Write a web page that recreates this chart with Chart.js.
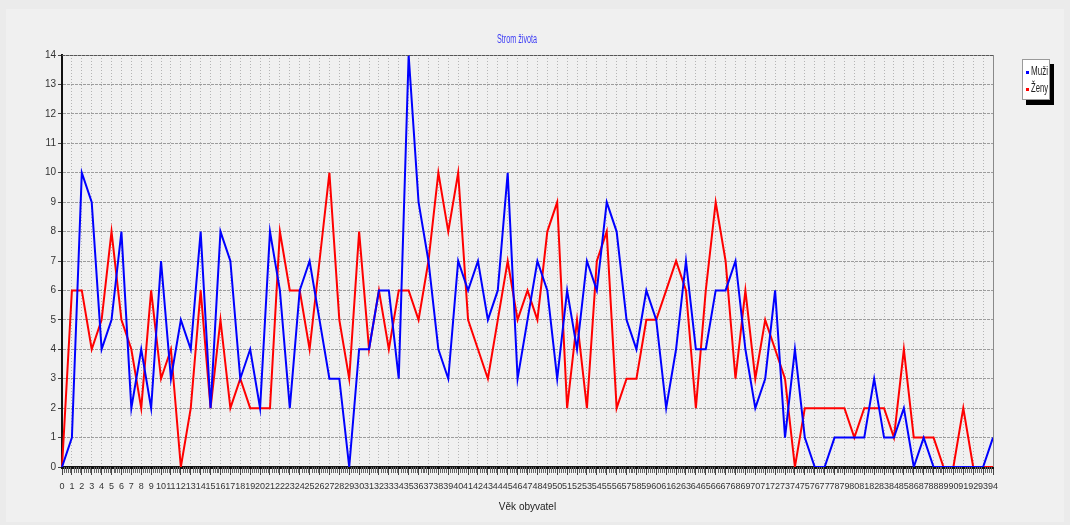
<!DOCTYPE html>
<html>
<head>
<meta charset="utf-8">
<script src="https://cdn.jsdelivr.net/npm/chart.js@4/dist/chart.umd.min.js"></script>
<style>
html, body { margin: 0; padding: 0; background: #ebebeb; }
#board { display: block; }
</style>
</head>
<body>
<canvas id="board" width="1070" height="525"></canvas>
<script>
// age categories (x axis)
const ages = [0, 1, 2, 3, 4, 5, 6, 7, 8, 9, 10, 11, 12, 13, 14, 15, 16, 17, 18, 19,
    20, 21, 22, 23, 24, 25, 26, 27, 28, 29, 30, 31, 32, 33, 34, 35, 36, 37, 38, 39,
    40, 41, 42, 43, 44, 45, 46, 47, 48, 49, 50, 51, 52, 53, 54, 55, 56, 57, 58, 59,
    60, 61, 62, 63, 64, 65, 66, 67, 68, 69, 70, 71, 72, 73, 74, 75, 76, 77, 78, 79,
    80, 81, 82, 83, 84, 85, 86, 87, 88, 89, 90, 91, 92, 93, 94];

// number of men per age
const muzi = [0, 1, 10, 9, 4, 5, 8, 2, 4, 2, 7, 3, 5, 4, 8, 2, 8, 7, 3, 4,
    2, 8, 6, 2, 6, 7, 5, 3, 3, 0, 4, 4, 6, 6, 3, 14, 9, 7, 4, 3,
    7, 6, 7, 5, 6, 10, 3, 5, 7, 6, 3, 6, 4, 7, 6, 9, 8, 5, 4, 6,
    5, 2, 4, 7, 4, 4, 6, 6, 7, 4, 2, 3, 6, 1, 4, 1, 0, 0, 1, 1,
    1, 1, 3, 1, 1, 2, 0, 1, 0, 0, 0, 0, 0, 0, 1];

// number of women per age
const zeny = [0, 6, 6, 4, 5, 8, 5, 4, 2, 6, 3, 4, 0, 2, 6, 2, 5, 2, 3, 2,
    2, 2, 8, 6, 6, 4, 7, 10, 5, 3, 8, 4, 6, 4, 6, 6, 5, 7, 10, 8,
    10, 5, 4, 3, 5, 7, 5, 6, 5, 8, 9, 2, 5, 2, 7, 8, 2, 3, 3, 5,
    5, 6, 7, 6, 2, 6, 9, 7, 3, 6, 3, 5, 4, 3, 0, 2, 2, 2, 2, 2,
    1, 2, 2, 2, 1, 4, 1, 1, 1, 0, 0, 2, 0, 0, 0];

const chartTitle = 'Strom života';
const xTitle = 'Věk obyvatel';
const seriesNames = ['Muži', 'Ženy'];

const FONT = "'Liberation Sans', Arial, sans-serif";

// draw text squeezed horizontally so it fits a given width
function squeezeText(ctx, text, x, y, maxW) {
    const w = ctx.measureText(text).width;
    const k = w > maxW ? maxW / w : 1;
    ctx.save();
    ctx.translate(x, y);
    ctx.scale(k, 1);
    ctx.fillText(text, 0, 0);
    ctx.restore();
}

// background, frame, minor ticks, title and legend box
const decorations = {
    id: 'decorations',
    beforeDraw(chart) {
        const ctx = chart.ctx;
        ctx.save();
        ctx.fillStyle = '#f0f0f0';
        ctx.fillRect(6, 9, chart.width - 12, chart.height - 12);
        ctx.restore();
    },
    afterDraw(chart) {
        const ctx = chart.ctx;
        const area = chart.chartArea;
        const x = chart.scales.x;
        ctx.save();

        // top and right edges of the plot frame
        ctx.strokeStyle = '#555';
        ctx.lineWidth = 1;
        ctx.setLineDash([3, 1]);
        ctx.beginPath();
        ctx.moveTo(area.left, area.top + 0.5);
        ctx.lineTo(area.right, area.top + 0.5);
        ctx.stroke();
        ctx.setLineDash([]);
        ctx.strokeStyle = '#8a8a8a';
        ctx.beginPath();
        ctx.moveTo(area.right + 0.5, area.top);
        ctx.lineTo(area.right + 0.5, area.bottom);
        ctx.stroke();

        // minor ticks under the x axis
        ctx.strokeStyle = '#666';
        ctx.beginPath();
        for (let i = 0; i < ages.length - 1; i++) {
            for (let k = 1; k < 5; k++) {
                const px = Math.round(x.getPixelForValue(i + k / 5)) + 0.5;
                ctx.moveTo(px, area.bottom);
                ctx.lineTo(px, area.bottom + 6);
            }
        }
        ctx.stroke();

        // title
        ctx.fillStyle = '#3b3bf5';
        ctx.font = '12px ' + FONT;
        ctx.textAlign = 'left';
        ctx.textBaseline = 'middle';
        squeezeText(ctx, chartTitle, 497, 40, 40);

        // legend box with shadow
        const bx = 1022, by = 59, bw = 28, bh = 41;
        ctx.fillStyle = '#000';
        ctx.fillRect(bx + 4, by + 5, bw, bh);
        ctx.fillStyle = '#fff';
        ctx.fillRect(bx, by, bw, bh);
        ctx.strokeStyle = '#9a9a9a';
        ctx.strokeRect(bx + 0.5, by + 0.5, bw - 1, bh - 1);
        ctx.font = '12px ' + FONT;
        chart.data.datasets.forEach((ds, i) => {
            const ly = by + 13 + i * 17;
            ctx.fillStyle = ds.borderColor;
            ctx.fillRect(bx + 4, ly - 1, 3, 3);
            ctx.fillStyle = '#222';
            squeezeText(ctx, ds.label, bx + 9, ly, 17);
        });
        ctx.restore();
    }
};

const data = {
    labels: ages,
    datasets: [{
        label: seriesNames[0],
        data: muzi,
        borderColor: '#0000ff',
        backgroundColor: '#0000ff',
        borderWidth: 2,
        pointRadius: 0,
        tension: 0
    }, {
        label: seriesNames[1],
        data: zeny,
        borderColor: '#ff0000',
        backgroundColor: '#ff0000',
        borderWidth: 2,
        pointRadius: 0,
        tension: 0
    }]
};

const config = {
    type: 'line',
    data: data,
    options: {
        responsive: false,
        animation: false,
        devicePixelRatio: 1,
        layout: { padding: { top: 55, right: 77, left: 0, bottom: 0 } },
        plugins: {
            legend: { display: false },
            title: { display: false },
            tooltip: { enabled: false }
        },
        scales: {
            x: {
                type: 'category',
                offset: false,
                afterFit: (scale) => { scale.height = 58; },
                grid: { color: '#b4b4b4', tickLength: 8, tickColor: '#444', drawTicks: true },
                border: { display: true, color: '#111', width: 3, dash: [1, 2] },
                ticks: {
                    autoSkip: false, maxRotation: 0, minRotation: 0, padding: 6,
                    color: '#333', font: { family: FONT, size: 9 }
                },
                title: {
                    display: true, text: xTitle, color: '#222',
                    font: { family: FONT, size: 10 }, padding: { top: 0, bottom: 12 }
                }
            },
            y: {
                min: 0,
                max: 14,
                afterFit: (scale) => { scale.width = 62; },
                grid: { color: '#9c9c9c', tickLength: 4, tickColor: '#444' },
                border: { display: true, color: '#111', width: 2, dash: [3, 1] },
                ticks: {
                    stepSize: 1, padding: 2, color: '#333',
                    font: { family: FONT, size: 10 }
                }
            }
        }
    },
    plugins: [decorations]
};

const ctx = document.getElementById('board').getContext('2d');
const myChart = new Chart(ctx, config);
</script>
</body>
</html>
